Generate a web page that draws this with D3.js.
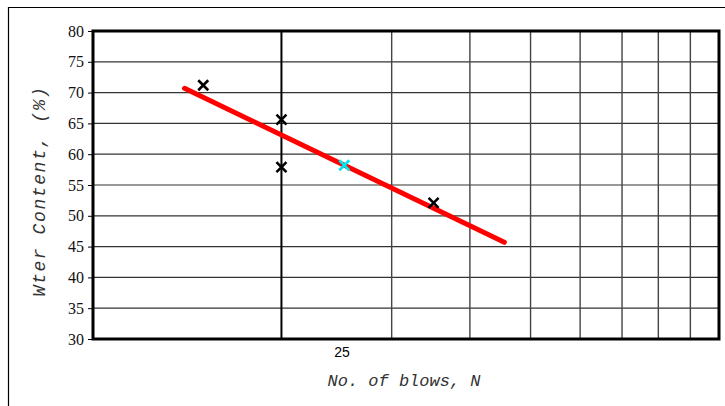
<!DOCTYPE html>
<html>
<head>
<meta charset="utf-8">
<script src="https://cdn.jsdelivr.net/npm/d3@7"></script>
<style>
body { margin: 0; background: #fff; }
</style>
</head>
<body>
<svg width="725" height="406"></svg>
<script>
// dati
var blows = [15, 20, 20, 35];
var water = [71.2, 65.6, 57.9, 52.1];
var llBlows = [25.2];
var llWater = [58.2];
var fitBlows = [14, 45.4];
var fitWater = [70.7, 45.7];
var yTicks = [30, 35, 40, 45, 50, 55, 60, 65, 70, 75, 80];
var xGrid = [20, 30, 40, 50, 60, 70, 80, 90];
var xLabel = [25];

var svg = d3.select("svg"),
width = +svg.attr("width"),
height = +svg.attr("height");

// margini area grafico ("top" e' riservato da window)
var pLeft = 93, pRight = 719, pTop = 31, pBottom = 339;

// scala logaritmica per i colpi
var x = d3.scaleLog().domain([10, 100]).range([pLeft, pRight]);
var y = d3.scaleLinear().domain([30, 80]).range([pBottom, pTop]);

// bordo esterno
svg.append("path")
.attr("d", "M8.5,406 V7.5 H725")
.attr("fill", "none")
.attr("stroke", "#000")
.attr("stroke-width", 1.2);

// griglia orizzontale
svg.append("g")
.selectAll("line")
.data(yTicks)
.enter()
.append("line")
.attr("x1", pLeft).attr("x2", pRight)
.attr("y1", function (d) { return y(d); })
.attr("y2", function (d) { return y(d); })
.attr("stroke", "#333")
.attr("stroke-width", 1.2);

// griglia verticale
svg.append("g")
.selectAll("line")
.data(xGrid)
.enter()
.append("line")
.attr("y1", pTop).attr("y2", pBottom)
.attr("x1", function (d) { return x(d); })
.attr("x2", function (d) { return x(d); })
.attr("stroke", function (d) { return d == 20 ? "#000" : "#444"; })
.attr("stroke-width", function (d) { return d == 20 ? 2 : 1.4; });

// cornice area grafico
svg.append("rect")
.attr("x", pLeft).attr("y", pTop)
.attr("width", pRight - pLeft).attr("height", pBottom - pTop)
.attr("fill", "none")
.attr("stroke", "#000")
.attr("stroke-width", 3);

// asse y
var yAxis = svg.append("g")
.attr("transform", "translate(" + pLeft + ",0)")
.call(d3.axisLeft(y).tickValues(yTicks).tickSize(5).tickPadding(4));
yAxis.select(".domain").remove();
yAxis.selectAll("text")
.style("font-family", "'Liberation Serif', 'Times New Roman', serif")
.style("font-size", "16px")
.attr("fill", "#111");
yAxis.selectAll("line").attr("stroke", "#000");

// etichetta 25
svg.append("g")
.selectAll("text")
.data(xLabel)
.enter()
.append("text")
.attr("x", function (d) { return x(d); })
.attr("y", 357)
.attr("text-anchor", "middle")
.style("font-family", "'Liberation Sans', Arial, sans-serif")
.style("font-size", "14px")
.text(function (d) { return d; });

// titoli assi
svg.append("text")
.attr("x", 404).attr("y", 386)
.attr("text-anchor", "middle")
.style("font-family", "'Liberation Mono', 'Courier New', monospace")
.style("font-style", "italic")
.style("font-size", "17px")
.attr("fill", "#333")
.text("No. of blows, N");

svg.append("text")
.attr("transform", "translate(45,191) rotate(-90)")
.attr("text-anchor", "middle")
.style("font-family", "'Liberation Mono', 'Courier New', monospace")
.style("font-style", "italic")
.style("font-size", "18px")
.style("letter-spacing", "1.6px")
.attr("fill", "#333")
.text("Wter Content, (%)");

// retta di regressione
var line = d3.line()
.x(function (d) { return x(d[0]); })
.y(function (d) { return y(d[1]); });
svg.append("path")
.datum(d3.zip(fitBlows, fitWater))
.attr("d", line)
.attr("fill", "none")
.attr("stroke", "#ff0000")
.attr("stroke-width", 5)
.attr("stroke-linecap", "round");

// marcatori a croce
function croci(bx, wy, colore) {
  var s = 5;
  svg.append("g")
  .selectAll("path")
  .data(d3.zip(bx, wy))
  .enter()
  .append("path")
  .attr("d", function (d) {
    var cx = x(d[0]), cy = y(d[1]);
    return "M" + (cx - s) + "," + (cy - s) + "L" + (cx + s) + "," + (cy + s) +
    "M" + (cx - s) + "," + (cy + s) + "L" + (cx + s) + "," + (cy - s);
  })
  .attr("stroke", colore)
  .attr("stroke-width", 2.6)
  .attr("fill", "none");
}
croci(blows, water, "#000");
croci(llBlows, llWater, "#00e5ee");
</script>
</body>
</html>
